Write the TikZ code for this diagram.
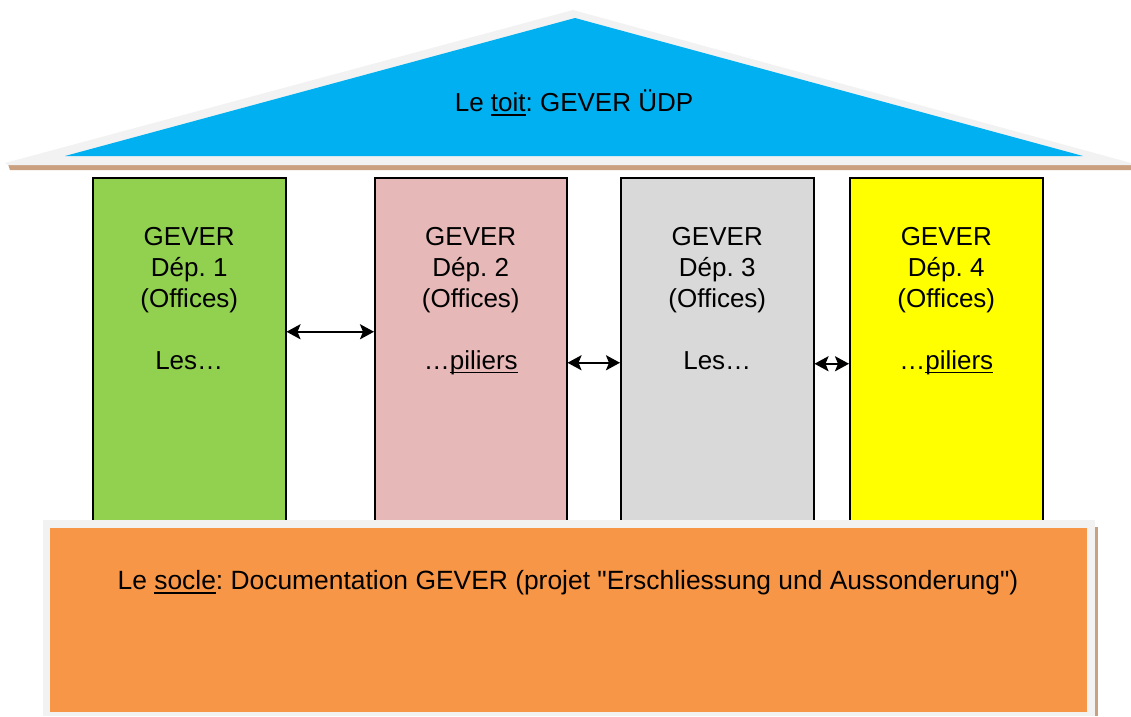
\documentclass[tikz,border=0pt]{standalone}
\usepackage{fontspec}
\setmainfont[Ligatures=TeXOff]{Liberation Sans}
\usetikzlibrary{arrows.meta}
\definecolor{roofblue}{HTML}{00B0F0}
\definecolor{frame}{HTML}{F2F2F2}
\definecolor{shadowbrown}{HTML}{C9A080}
\definecolor{pgreen}{HTML}{92D050}
\definecolor{ppink}{HTML}{E6B8B7}
\definecolor{pgray}{HTML}{D9D9D9}
\definecolor{pyellow}{HTML}{FFFF00}
\definecolor{socleorange}{HTML}{F79646}
\newcommand\ulx[1]{\setbox0\hbox{#1}\rlap{\rule[-4pt]{\wd0}{1.8pt}}\box0}
\frenchspacing
\begin{document}
\begin{tikzpicture}[x=1pt,y=-1pt,
  pillar/.style={draw=black, line width=1.5pt, minimum width=193pt, minimum height=343pt, inner sep=0pt, anchor=north west},
  ptext/.style={align=center, font=\fontsize{26}{31}\selectfont, inner sep=0pt, anchor=north},
  label/.style={font=\fontsize{26}{31}\selectfont, inner sep=0pt},
  link/.style={{Stealth[length=14pt,width=15pt,inset=3pt]}-{Stealth[length=14pt,width=15pt,inset=3pt]}, line width=2.2pt}]
\useasboundingbox (0,0) rectangle (1131,716);
% roof
\fill[shadowbrown] (8,164) -- (1131,164) -- (1131,170) -- (10,170) -- cycle;
\fill[frame] (5,163) -- (573,10) -- (1131,163) -- (1131,165) -- (8,165) -- cycle;
\fill[roofblue] (65,156) -- (575,18) -- (1083,156) -- cycle;
\node[label] (toit) at (574,103) {Le \ulx{toit}: GEVER ÜDP};
% pillars
\node[pillar, fill=pgreen] (p1) at (92,177) {};
\node[pillar, fill=ppink, minimum width=192pt] (p2) at (374,177) {};
\node[pillar, fill=pgray] (p3) at (620,177) {};
\node[pillar, fill=pyellow] (p4) at (849,177) {};
\node[ptext] (t1) at ([yshift=-50pt]p1.north) {GEVER\\Dép. 1\\(Offices)\\[31pt]Les…};
\node[ptext] (t2) at ([yshift=-50pt]p2.north) {GEVER\\Dép. 2\\(Offices)\\[31pt]…\ulx{piliers}};
\node[ptext] (t3) at ([yshift=-50pt]p3.north) {GEVER\\Dép. 3\\(Offices)\\[31pt]Les…};
\node[ptext] (t4) at ([yshift=-50pt]p4.north) {GEVER\\Dép. 4\\(Offices)\\[31pt]…\ulx{piliers}};
% socle
\fill[shadowbrown] (1095,527) rectangle (1098,716);
\fill[frame] (43,520) rectangle (1095,716);
\node[fill=socleorange, minimum width=1037pt, minimum height=184pt, inner sep=0pt, anchor=north west] (socle) at (50,528) {};
\node[label, font=\fontsize{26.4}{31}\selectfont] (socletext) at (568,583) {Le \ulx{socle}: Documentation GEVER (projet "Erschliessung und Aussonderung")};
% links
\draw[link] ([yshift=17.5pt]p1.east) -- ([yshift=17.5pt]p2.west);
\draw[link] ([yshift=-13.5pt]p2.east) -- ([yshift=-13.5pt]p3.west);
\draw[link] ([yshift=-14.5pt]p3.east) -- ([yshift=-14.5pt]p4.west);
\end{tikzpicture}
\end{document}
